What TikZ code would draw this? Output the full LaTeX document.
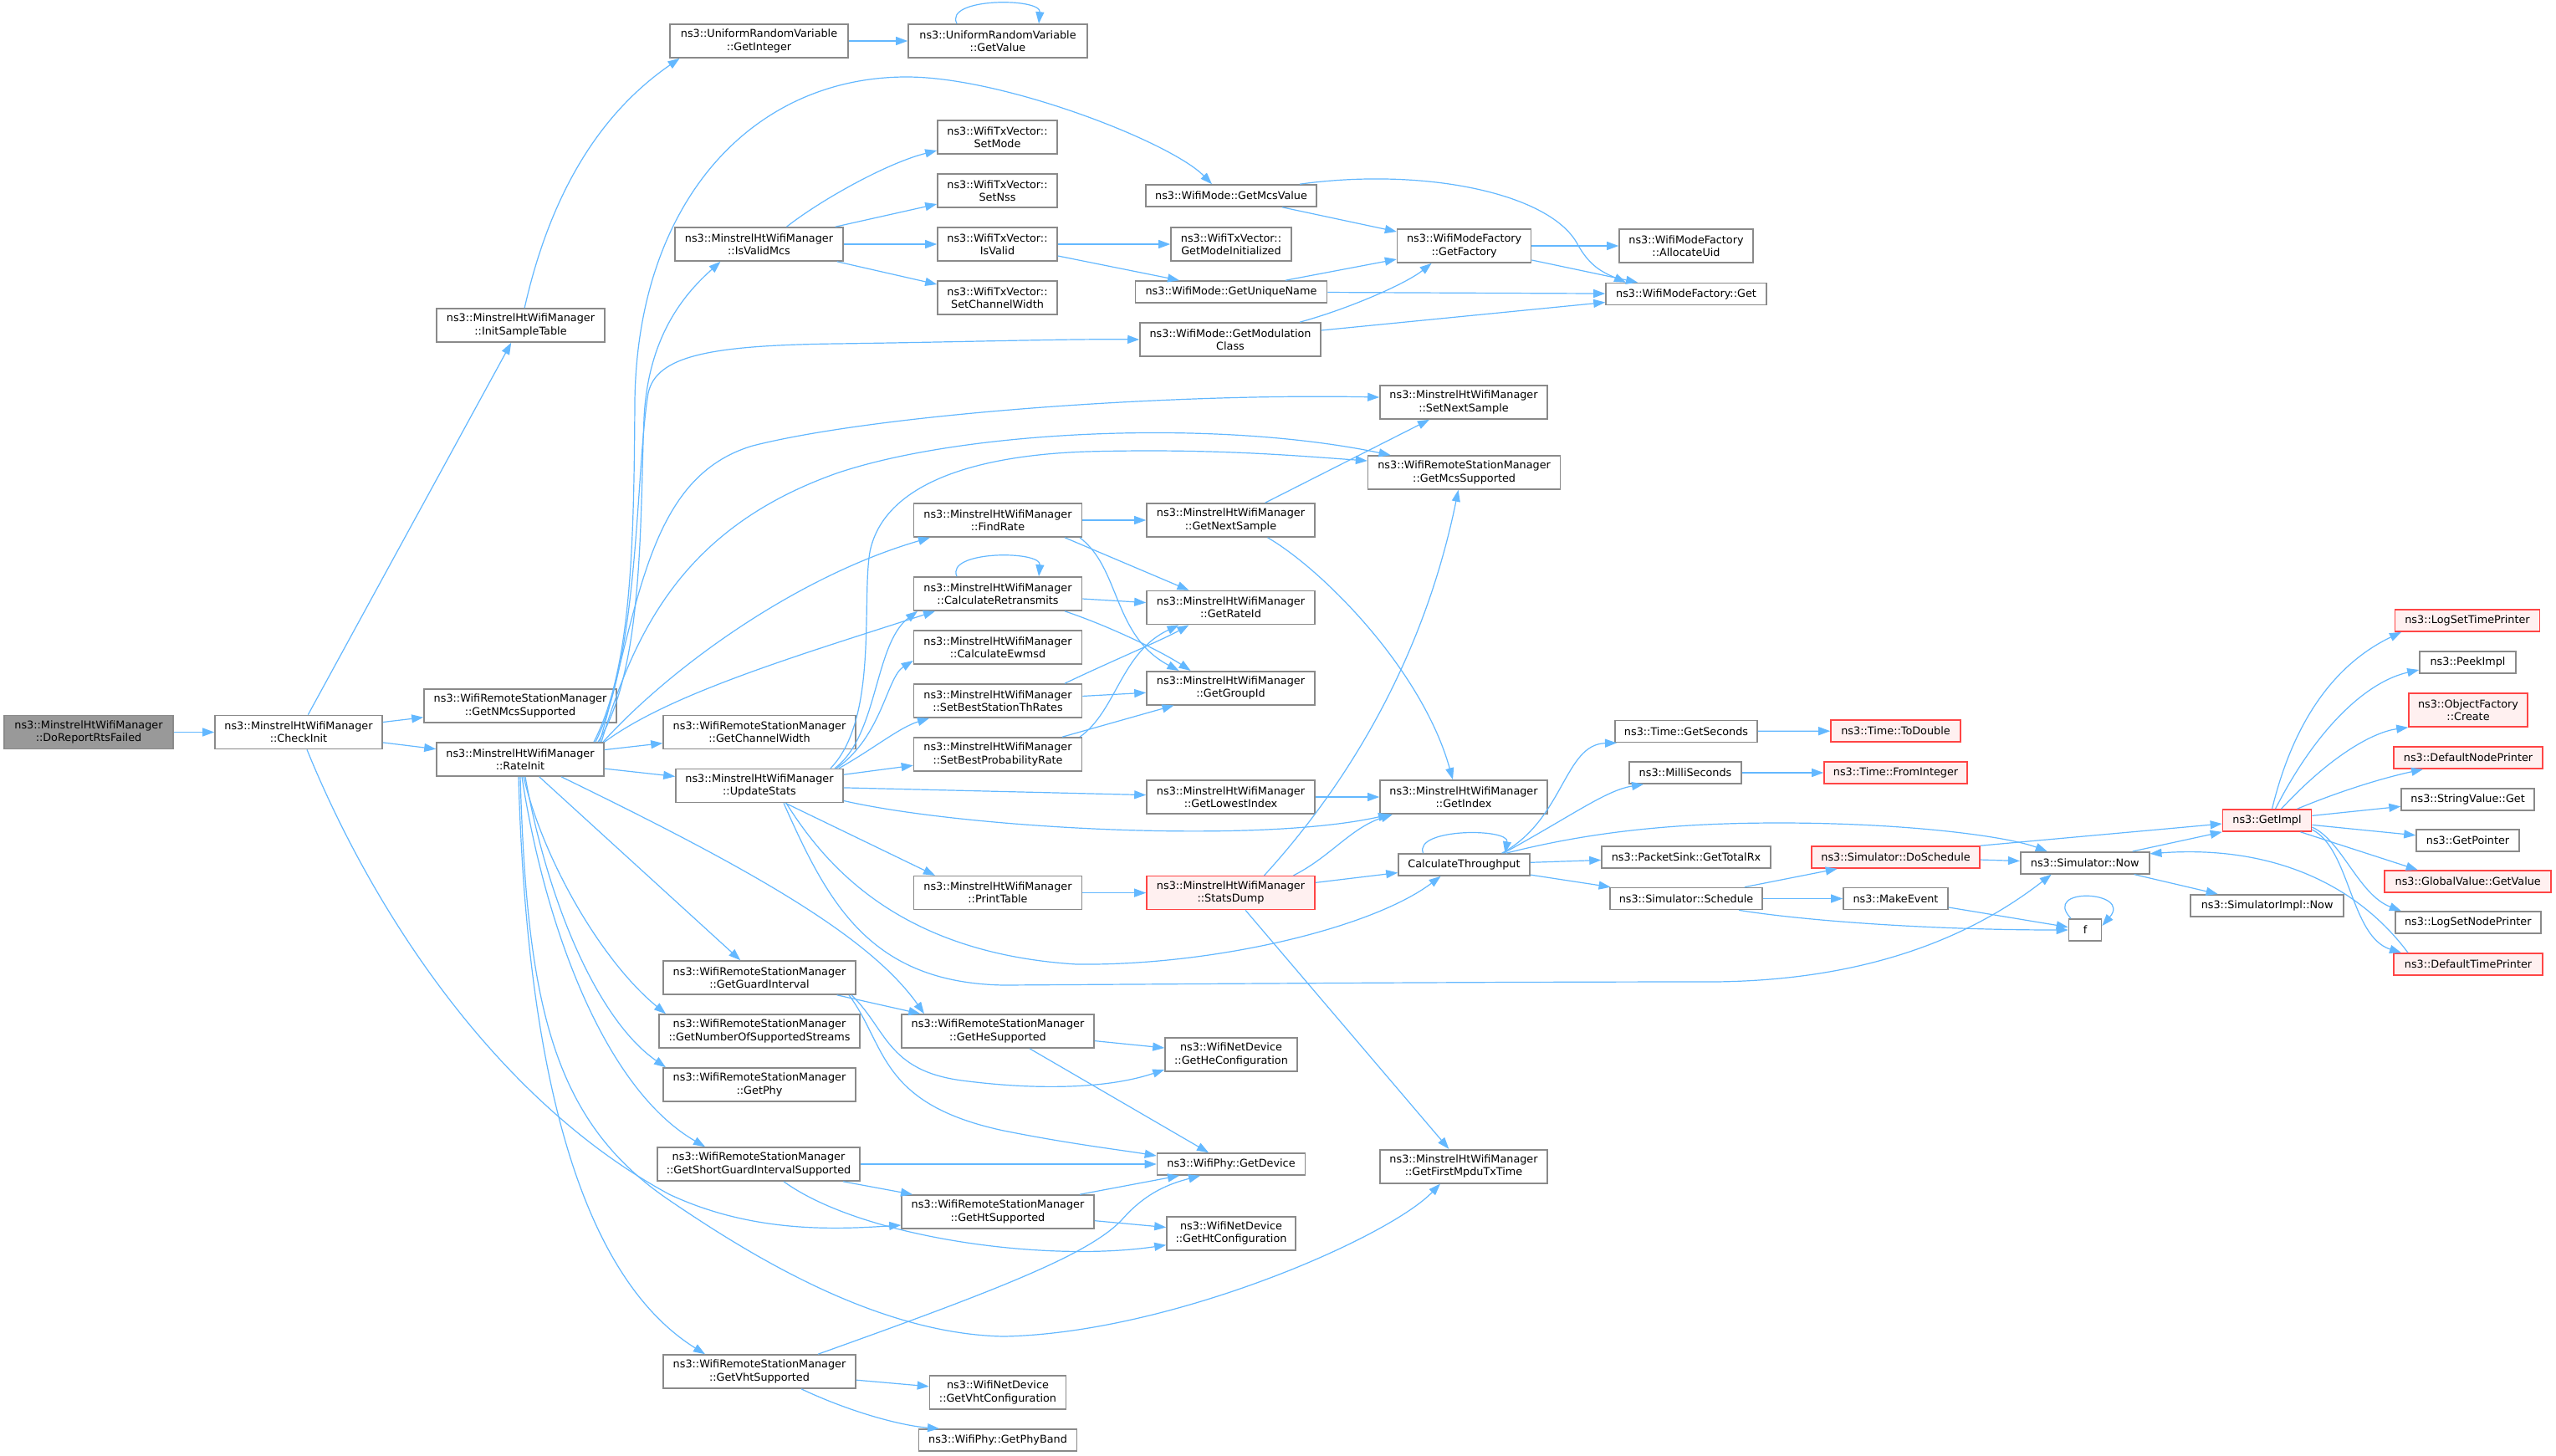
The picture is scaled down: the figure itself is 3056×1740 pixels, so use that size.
\documentclass[tikz,border=0pt]{standalone}
\usepackage{fontspec}
\setmainfont{DejaVu Sans}
\usetikzlibrary{arrows.meta}
\definecolor{edgec}{HTML}{63B8FF}
\definecolor{bord}{HTML}{8A8A8A}
\definecolor{rootf}{HTML}{999999}
\definecolor{redf}{HTML}{FFF0F0}
\definecolor{redb}{HTML}{FF4545}
\newcommand\nodefont{\fontsize{12.8}{15.2}\selectfont}
\begin{document}
\begin{tikzpicture}[x=1pt,y=-1pt,
 box/.style={draw=bord, fill=white, line width=1.6pt, inner sep=0pt, align=center, font=\nodefont, text=black},
 rbox/.style={box, draw=redb, fill=redf},
 gbox/.style={box, fill=rootf},
 one/.style={minimum height=26pt},
 two/.style={minimum height=40pt},
 arr/.style={draw=edgec, line width=1.2pt, -{Triangle[length=14pt,width=10pt]}},
 ]
\fill[white] (0,0) rectangle (3056,1740);
\useasboundingbox (0,0) rectangle (3056,1740);

% ---------- nodes ----------
\node[gbox,two,minimum width=202pt] (drf) at (106,875.5) {ns3::MinstrelHtWifiManager\\::DoReportRtsFailed};
\node[box,two,minimum width=200pt] (ci) at (357,875.5) {ns3::MinstrelHtWifiManager\\::CheckInit};
\node[box,two,minimum width=201pt] (ist) at (622.5,389) {ns3::MinstrelHtWifiManager\\::InitSampleTable};
\node[box,two,minimum width=213pt] (gint) at (907.5,49) {ns3::UniformRandomVariable\\::GetInteger};
\node[box,two,minimum width=214pt] (gval) at (1193,49) {ns3::UniformRandomVariable\\::GetValue};
\node[box,two,minimum width=230pt] (nmcs) at (622,844) {ns3::WifiRemoteStationManager\\::GetNMcsSupported};
\node[box,two,minimum width=200pt] (ri) at (622,908) {ns3::MinstrelHtWifiManager\\::RateInit};
\node[box,two,minimum width=230pt] (cw) at (908,875.5) {ns3::WifiRemoteStationManager\\::GetChannelWidth};
\node[box,two,minimum width=200pt] (us) at (908,939.5) {ns3::MinstrelHtWifiManager\\::UpdateStats};
\node[box,two,minimum width=201pt] (ivm) at (907.5,292) {ns3::MinstrelHtWifiManager\\::IsValidMcs};
\node[box,two,minimum width=143pt] (sm) at (1192.5,164) {ns3::WifiTxVector::\\SetMode};
\node[box,two,minimum width=143pt] (sn) at (1192.5,228) {ns3::WifiTxVector::\\SetNss};
\node[box,two,minimum width=143pt] (iv) at (1192.5,292) {ns3::WifiTxVector::\\IsValid};
\node[box,two,minimum width=143pt] (scw) at (1192.5,356) {ns3::WifiTxVector::\\SetChannelWidth};
\node[box,one,minimum width=204pt] (gmv) at (1472,234) {ns3::WifiMode::GetMcsValue};
\node[box,two,minimum width=144pt] (gmi) at (1472,292) {ns3::WifiTxVector::\\GetModeInitialized};
\node[box,one,minimum width=229pt] (gun) at (1472,349) {ns3::WifiMode::GetUniqueName};
\node[box,two,minimum width=216pt] (gmc) at (1471,406) {ns3::WifiMode::GetModulation\\Class};
\node[box,two,minimum width=160pt] (gf) at (1750.6,294) {ns3::WifiModeFactory\\::GetFactory};
\node[box,two,minimum width=160pt] (au) at (2016,294) {ns3::WifiModeFactory\\::AllocateUid};
\node[box,one,minimum width=192pt] (get) at (2016,351.5) {ns3::WifiModeFactory::Get};
\node[box,two,minimum width=200pt] (sns) at (1750,481) {ns3::MinstrelHtWifiManager\\::SetNextSample};
\node[box,two,minimum width=230pt] (gms) at (1750.6,565) {ns3::WifiRemoteStationManager\\::GetMcsSupported};
\node[box,two,minimum width=201pt] (fr) at (1193,622) {ns3::MinstrelHtWifiManager\\::FindRate};
\node[box,two,minimum width=201pt] (gns) at (1471.5,622) {ns3::MinstrelHtWifiManager\\::GetNextSample};
\node[box,two,minimum width=201pt] (cr) at (1193,710) {ns3::MinstrelHtWifiManager\\::CalculateRetransmits};
\node[box,two,minimum width=201pt] (gri) at (1471.5,726.6) {ns3::MinstrelHtWifiManager\\::GetRateId};
\node[box,two,minimum width=201pt] (ce) at (1193,774) {ns3::MinstrelHtWifiManager\\::CalculateEwmsd};
\node[box,two,minimum width=201pt] (sbst) at (1193,838) {ns3::MinstrelHtWifiManager\\::SetBestStationThRates};
\node[box,two,minimum width=201pt] (ggi) at (1471.5,822.7) {ns3::MinstrelHtWifiManager\\::GetGroupId};
\node[box,two,minimum width=201pt] (sbp) at (1193,902) {ns3::MinstrelHtWifiManager\\::SetBestProbabilityRate};
\node[box,two,minimum width=201pt] (gli) at (1471.5,953) {ns3::MinstrelHtWifiManager\\::GetLowestIndex};
\node[box,two,minimum width=200pt] (gidx) at (1750,953) {ns3::MinstrelHtWifiManager\\::GetIndex};
\node[box,one,minimum width=170pt] (gsec) at (2016,874.5) {ns3::Time::GetSeconds};
\node[box,one,minimum width=134pt] (msec) at (2015,924) {ns3::MilliSeconds};
\node[box,one,minimum width=157pt] (ct) at (1750.5,1034) {CalculateThroughput};
\node[box,one,minimum width=202pt] (ptr) at (2016,1025) {ns3::PacketSink::GetTotalRx};
\node[box,one,minimum width=182pt] (ss) at (2016,1074.5) {ns3::Simulator::Schedule};
\node[box,two,minimum width=201pt] (pt) at (1193,1067.6) {ns3::MinstrelHtWifiManager\\::PrintTable};
\node[rbox,two,minimum width=201pt] (sd) at (1471.5,1067.6) {ns3::MinstrelHtWifiManager\\::StatsDump};
\node[box,two,minimum width=230pt] (ghs) at (1193,1233) {ns3::WifiRemoteStationManager\\::GetHeSupported};
\node[box,two,minimum width=158pt] (ghc) at (1472,1261) {ns3::WifiNetDevice\\::GetHeConfiguration};
\node[box,one,minimum width=177pt] (gd) at (1472,1392) {ns3::WifiPhy::GetDevice};
\node[box,two,minimum width=230pt] (hts) at (1193,1449) {ns3::WifiRemoteStationManager\\::GetHtSupported};
\node[box,two,minimum width=154pt] (htc) at (1472,1474.7) {ns3::WifiNetDevice\\::GetHtConfiguration};
\node[box,two,minimum width=200pt] (fmt) at (1750,1394.7) {ns3::MinstrelHtWifiManager\\::GetFirstMpduTxTime};
\node[box,two,minimum width=163pt] (vhc) at (1193,1665) {ns3::WifiNetDevice\\::GetVhtConfiguration};
\node[box,one,minimum width=189pt] (pb) at (1193,1722) {ns3::WifiPhy::GetPhyBand};
\node[box,two,minimum width=230pt] (ggint) at (908,1169) {ns3::WifiRemoteStationManager\\::GetGuardInterval};
\node[box,two,minimum width=240pt] (nss) at (908,1233) {ns3::WifiRemoteStationManager\\::GetNumberOfSupportedStreams};
\node[box,two,minimum width=230pt] (gphy) at (908,1297) {ns3::WifiRemoteStationManager\\::GetPhy};
\node[box,two,minimum width=242pt] (sgi) at (907,1392) {ns3::WifiRemoteStationManager\\::GetShortGuardIntervalSupported};
\node[box,two,minimum width=230pt] (vhts) at (908,1640) {ns3::WifiRemoteStationManager\\::GetVhtSupported};
\node[rbox,one,minimum width=155pt] (td) at (2266.5,874) {ns3::Time::ToDouble};
\node[rbox,one,minimum width=171pt] (fi) at (2266.5,924) {ns3::Time::FromInteger};
\node[rbox,one,minimum width=201pt] (ds) at (2266.5,1025) {ns3::Simulator::DoSchedule};
\node[box,one,minimum width=125pt] (me) at (2266.5,1074.5) {ns3::MakeEvent};
\node[box,one,minimum width=154pt] (now) at (2492.7,1031.8) {ns3::Simulator::Now};
\node[box,one,minimum width=39pt] (fnode) at (2493,1112) {f};
\node[box,one,minimum width=183pt] (simnow) at (2710.6,1082.8) {ns3::SimulatorImpl::Now};
\node[rbox,one,minimum width=106pt] (gimpl) at (2710.5,981) {ns3::GetImpl};
\node[rbox,one,minimum width=173pt] (lstp) at (2950,742) {ns3::LogSetTimePrinter};
\node[box,one,minimum width=115pt] (peek) at (2950.5,792) {ns3::PeekImpl};
\node[rbox,two,minimum width=142pt] (ofc) at (2951,849) {ns3::ObjectFactory\\::Create};
\node[rbox,one,minimum width=178pt] (dnp) at (2951,906) {ns3::DefaultNodePrinter};
\node[box,one,minimum width=159pt] (svg) at (2950.6,956) {ns3::StringValue::Get};
\node[box,one,minimum width=123pt] (gp) at (2950.5,1005) {ns3::GetPointer};
\node[rbox,one,minimum width=199pt] (gvv) at (2950.7,1054) {ns3::GlobalValue::GetValue};
\node[box,one,minimum width=174pt] (lsnp) at (2950.8,1103) {ns3::LogSetNodePrinter};
\node[rbox,one,minimum width=178pt] (dtp) at (2951,1153) {ns3::DefaultTimePrinter};

% ---------- edges ----------
\draw[arr] (drf) -- (ci);
\draw[arr] (ci) -- (nmcs);
\draw[arr] (ci) -- (ri);
\draw[arr] (ci) -- (ist);
\draw[arr] ([xshift=10pt]ci.south) .. controls (450,1100) and (600,1320) .. (800,1428) .. controls (900,1475) and (1000,1470) .. ([yshift=-16pt]hts.west);
\draw[arr] (ist) .. controls (665,200) and (740,120) .. ([xshift=-95pt]gint.south);
\draw[arr] (gint) -- (gval);
\draw[arr] ([xshift=-49pt]gval.north) .. controls (1128,-3) and (1245,-3) .. ([xshift=49pt]gval.north);

% RateInit upward
\draw[arr] (ri) -- (cw);
\draw[arr] (ri) -- (us);
\draw[arr] ([xshift=88pt]ri.north) .. controls (755,800) and (758,650) .. (759,480) .. controls (762,240) and (900,92) .. (1084,92) .. controls (1200,92) and (1400,170) .. ([xshift=-23pt]gmv.north);
\draw[arr] ([xshift=90pt]ri.north) .. controls (765,780) and (760,560) .. (775,470) .. controls (785,425) and (850,413) .. (1000,411) .. controls (1150,409) and (1280,405) .. (gmc.west);
\draw[arr] ([xshift=93pt]ri.north) .. controls (770,800) and (765,620) .. (770,500) .. controls (775,400) and (820,350) .. ([xshift=-46pt]ivm.south);
\draw[arr] ([xshift=95pt]ri.north) .. controls (765,720) and (775,570) .. (900,533) .. controls (1050,495) and (1400,470) .. ([yshift=6pt]sns.west);
\draw[arr] ([xshift=97pt]ri.north) .. controls (760,750) and (820,630) .. (1000,566) .. controls (1150,515) and (1450,500) .. ([xshift=-88pt]gms.north);
\draw[arr] ([xshift=99pt]ri.north) .. controls (800,800) and (950,690) .. ([xshift=-81pt]fr.south);
\draw[arr] (ri.north east) .. controls (800,830) and (950,785) .. ([xshift=-75pt]cr.south);

% RateInit downward
\draw[arr] (ri) -- (ggint);
\draw[arr] ([xshift=4pt]ri.south) .. controls (650,1030) and (720,1150) .. ([xshift=-112pt]nss.north);
\draw[arr] ([xshift=6pt]ri.south) .. controls (655,1080) and (715,1220) .. ([xshift=-112pt]gphy.north);
\draw[arr] ([xshift=2pt]ri.south) .. controls (650,1100) and (720,1300) .. ([xshift=-64pt]sgi.north);
\draw[arr] ([xshift=-2pt]ri.south) .. controls (630,1300) and (700,1530) .. ([xshift=-65pt]vhts.north);
\draw[arr] (ri.south) .. controls (630,1200) and (660,1340) .. (800,1435) .. controls (900,1503) and (1050,1595) .. (1200,1598) .. controls (1400,1594) and (1660,1480) .. ([xshift=-28pt]fmt.south);
\draw[arr] ([xshift=49pt]ri.south) .. controls (900,1040) and (1040,1120) .. ([xshift=-88pt]ghs.north);

% UpdateStats
\draw[arr] ([xshift=85pt]us.north) .. controls (1050,860) and (1030,720) .. (1040,660) .. controls (1055,585) and (1150,545) .. (1300,540) .. controls (1450,536) and (1550,545) .. ([yshift=14pt]gms.west);
\draw[arr] ([xshift=90pt]us.north) .. controls (1050,880) and (1045,770) .. ([xshift=-96pt]cr.south);
\draw[arr] ([xshift=92pt]us.north) .. controls (1055,880) and (1060,810) .. ([yshift=-16pt]ce.west);
\draw[arr] ([xshift=95pt]us.north) .. controls (1045,895) and (1075,870) .. ([xshift=-82pt]sbst.south);
\draw[arr] (us) -- (sbp);
\draw[arr] (us) -- (gli);
\draw[arr] ([yshift=-18pt]us.east) .. controls (1150,990) and (1500,1010) .. ([xshift=-88pt]gidx.south);
\draw[arr] ([xshift=31pt]us.south) -- ([xshift=-75pt]pt.north);
\draw[arr] ([xshift=32pt]us.south) .. controls (990,1040) and (1080,1140) .. (1287,1153) .. controls (1450,1155) and (1640,1110) .. ([xshift=-28pt]ct.south);
\draw[arr] ([xshift=29pt]us.south) .. controls (990,1080) and (1040,1175) .. (1200,1178) .. controls (1500,1176) and (1800,1174) .. (2050,1174) .. controls (2250,1172) and (2370,1110) .. ([xshift=-40pt]now.south);

% StatsDump, PrintTable
\draw[arr] (pt) -- (sd);
\draw[arr] ([xshift=40pt]sd.north) .. controls (1600,950) and (1700,800) .. ([xshift=-7pt]gms.south);
\draw[arr] ([xshift=75pt]sd.north) .. controls (1590,1025) and (1615,990) .. ([xshift=-85pt]gidx.south);
\draw[arr] (sd) -- (ct);
\draw[arr] (sd) -- (fmt);

% FindRate block
\draw[arr] (fr) -- (gns);
\draw[arr] ([xshift=80pt]fr.south) -- ([xshift=-50pt]gri.north);
\draw[arr] ([xshift=98pt]fr.south) .. controls (1340,680) and (1330,760) .. ([xshift=-62pt]ggi.north);
\draw[arr] (gns) -- (sns);
\draw[arr] ([xshift=44pt]gns.south) .. controls (1580,680) and (1700,800) .. ([xshift=-13pt]gidx.north);
\draw[arr] ([xshift=-49pt]cr.north) .. controls (1130,658) and (1245,658) .. ([xshift=49pt]cr.north);
\draw[arr] (cr) -- (gri);
\draw[arr] ([xshift=80pt]cr.south) .. controls (1330,750) and (1390,780) .. ([xshift=-48pt]ggi.north);
\draw[arr] ([xshift=80pt]sbst.north) .. controls (1330,790) and (1390,765) .. ([xshift=-50pt]gri.south);
\draw[arr] (sbst) -- (ggi);
\draw[arr] ([xshift=98pt]sbp.north) .. controls (1335,850) and (1340,780) .. ([xshift=-62pt]gri.south);
\draw[arr] ([xshift=77pt]sbp.north) -- ([xshift=-68pt]ggi.south);
\draw[arr] (gli) -- (gidx);

% CalculateThroughput
\draw[arr] ([xshift=-49pt]ct.north) .. controls (1690,990) and (1805,990) .. ([xshift=49pt]ct.north);
\draw[arr] ([xshift=45pt]ct.north) .. controls (1870,980) and (1870,890) .. ([xshift=-83pt]gsec.south);
\draw[arr] ([xshift=47pt]ct.north) .. controls (1880,975) and (1920,945) .. ([xshift=-50pt]msec.south);
\draw[arr] (ct) -- (ptr);
\draw[arr] (ct) -- (ss);
\draw[arr] ([xshift=50pt]ct.north) .. controls (1900,995) and (2000,984) .. (2127,984) .. controls (2280,984) and (2400,1000) .. ([xshift=-45pt]now.north);
\draw[arr] (gsec) -- (td);
\draw[arr] (msec) -- (fi);
\draw[arr] (ss) -- (ds);
\draw[arr] (ss) -- (me);
\draw[arr] ([xshift=63pt]ss.south) .. controls (2150,1100) and (2300,1112) .. (fnode.west);
\draw[arr] (me) -- (fnode);
\draw[arr] ([xshift=-17pt]fnode.north) .. controls (2440,1060) and (2550,1065) .. ([yshift=5pt]fnode.east);
\draw[arr] (ds) -- (now);
\draw[arr] (ds.north east) -- ([yshift=-4pt]gimpl.west);
\draw[arr] ([xshift=57pt]now.north) -- (gimpl.south west);
\draw[arr] (now) -- (simnow);

% GetImpl fan
\draw[arr] ([xshift=6pt]gimpl.north) .. controls (2745,850) and (2800,790) .. ([xshift=-79pt]lstp.south);
\draw[arr] ([xshift=10pt]gimpl.north) .. controls (2770,870) and (2830,815) .. ([yshift=-9pt]peek.west);
\draw[arr] ([xshift=17pt]gimpl.north) .. controls (2790,900) and (2840,875) .. (ofc.south west);
\draw[arr] ([xshift=36pt]gimpl.north) .. controls (2800,945) and (2850,930) .. ([xshift=-54pt]dnp.south);
\draw[arr] (gimpl) -- (svg);
\draw[arr] (gimpl) -- (gp);
\draw[arr] ([xshift=40pt]gimpl.south) -- ([xshift=-60pt]gvv.north);
\draw[arr] ([yshift=-8pt]gimpl.east) .. controls (2800,1005) and (2820,1070) .. ([xshift=-80pt]lsnp.north);
\draw[arr] ([yshift=-11pt]gimpl.east) .. controls (2810,1015) and (2810,1120) .. ([xshift=-80pt]dtp.north);
\draw[arr] ([xshift=-72pt]dtp.north) .. controls (2820,1060) and (2720,1010) .. ([yshift=11pt]now.east);

% WifiTxVector / WifiMode
\draw[arr] ([xshift=33pt]ivm.north) .. controls (980,240) and (1060,195) .. ([yshift=-16pt]sm.west);
\draw[arr] ([xshift=-10pt]ivm.north east) -- ([yshift=-16pt]sn.west);
\draw[arr] (ivm) -- (iv);
\draw[arr] ([xshift=-8pt]ivm.south east) -- ([yshift=16pt]scw.west);
\draw[arr] (iv) -- (gmi);
\draw[arr] ([yshift=-14pt]iv.east) -- ([xshift=-62pt]gun.north);
\draw[arr] ([xshift=61pt]gmv.south) -- ([yshift=17pt]gf.west);
\draw[arr] ([xshift=82pt]gmv.north) .. controls (1700,200) and (1850,230) .. (1885,290) .. controls (1900,318) and (1915,325) .. ([xshift=-72pt]get.north);
\draw[arr] ([xshift=65pt]gun.north) -- ([yshift=-16pt]gf.west);
\draw[arr] (gun) -- (get);
\draw[arr] ([xshift=83pt]gmc.north) .. controls (1610,370) and (1680,340) .. ([xshift=-39pt]gf.south);
\draw[arr] ([yshift=11pt]gmc.east) -- ([yshift=-10pt]get.west);
\draw[arr] (gf) -- (au);
\draw[arr] ([yshift=-17pt]gf.east) -- ([xshift=-58pt]get.north);

% Lower block
\draw[arr] (ggint) -- (ghs);
\draw[arr] ([xshift=110pt]ggint.south) .. controls (1060,1230) and (1060,1280) .. (1150,1292) .. controls (1250,1305) and (1330,1300) .. ([yshift=-18pt]ghc.west);
\draw[arr] ([xshift=107pt]ggint.south) .. controls (1060,1250) and (1050,1320) .. (1200,1352) .. controls (1280,1368) and (1340,1375) .. ([yshift=10pt]gd.west);
\draw[arr] (ghs) -- (ghc);
\draw[arr] ([xshift=38pt]ghs.south) -- ([xshift=-27pt]gd.north);
\draw[arr] (sgi) -- (gd);
\draw[arr] ([xshift=101pt]sgi.south) -- ([xshift=-102pt]hts.north);
\draw[arr] ([xshift=30pt]sgi.south) .. controls (1030,1480) and (1250,1510) .. ([yshift=-14pt]htc.west);
\draw[arr] ([xshift=98pt]hts.north) -- ([xshift=-62pt]gd.south);
\draw[arr] (hts) -- (htc);
\draw[arr] ([xshift=70pt]vhts.north) .. controls (1200,1540) and (1300,1500) .. (1340,1460) .. controls (1370,1425) and (1400,1415) .. ([xshift=-37pt]gd.south);
\draw[arr] (vhts) -- (vhc);
\draw[arr] ([xshift=50pt]vhts.south) .. controls (1020,1690) and (1080,1705) .. ([xshift=-70pt]pb.north);
\end{tikzpicture}
\end{document}
